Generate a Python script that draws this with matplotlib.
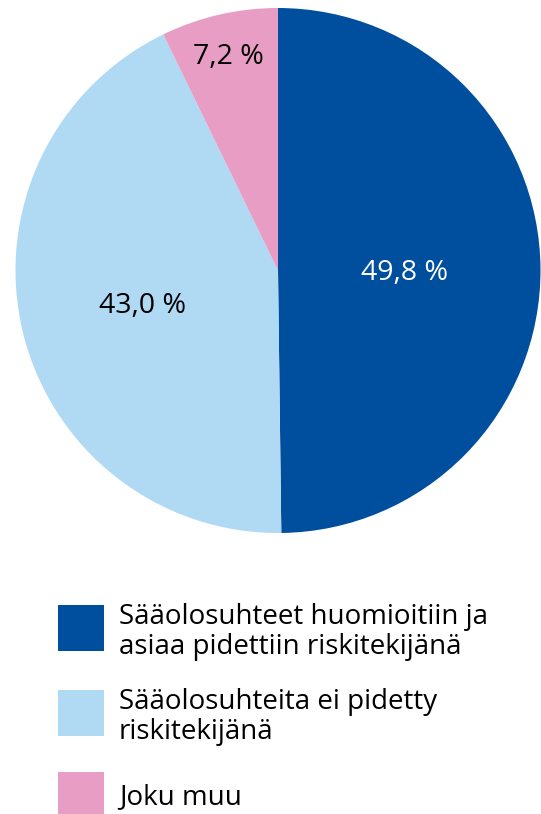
import matplotlib
matplotlib.use("Agg")
import matplotlib.pyplot as plt
from matplotlib.patches import Rectangle
from matplotlib.transforms import offset_copy
import numpy as np

labels = ["Sääolosuhteet huomioitiin ja\nasiaa pidettiin riskitekijänä",
          "Sääolosuhteita ei pidetty\nriskitekijänä",
          "Joku muu"]
values = [49.8, 43.0, 7.2]
value_labels = ["49,8 %", "43,0 %", "7,2 %"]
colors = ["#004F9F", "#B0DAF3", "#E89EC4"]
label_colors = ["white", "black", "black"]
label_dist = [0.482, 0.53, 0.845]

plt.rcParams['font.family'] = ['Open Sans', 'DejaVu Sans']

W, H = 541, 814
fig = plt.figure(figsize=(W/100, H/100), dpi=100)
cx, cy, r = 278, 270.5, 262.5
ax = fig.add_axes([(cx-r)/W, (H-cy-r)/H, 2*r/W, 2*r/H])
wedges, _ = ax.pie(values, colors=colors, startangle=90, counterclock=False,
                   radius=1.0, wedgeprops=dict(linewidth=0))
ax.set_xlim(-1, 1); ax.set_ylim(-1, 1)
ax.set_aspect('equal')
tr = offset_copy(ax.transData, fig=fig, x=0, y=-10, units='dots')
for w, txt, col, d in zip(wedges, value_labels, label_colors, label_dist):
    th = np.deg2rad((w.theta1 + w.theta2) / 2)
    ax.text(d*np.cos(th), d*np.sin(th), txt, color=col, fontsize=20.5,
            ha='center', va='baseline', transform=tr)

# legend
sq = 46
sq_tops = [605, 690, 772]
first_baselines = [624, 709, 804]
pitch = 30
for y, b, c, lab in zip(sq_tops, first_baselines, colors, labels):
    fig.add_artist(Rectangle((58/W, 1-(y+sq)/H), sq/W, sq/H, color=c,
                             transform=fig.transFigure, lw=0))
    for i, line in enumerate(lab.split("\n")):
        fig.text(119/W, 1-(b + i*pitch)/H, line, fontsize=20, va='baseline',
                 ha='left', color='black')

fig.savefig("out.png", dpi=100)
